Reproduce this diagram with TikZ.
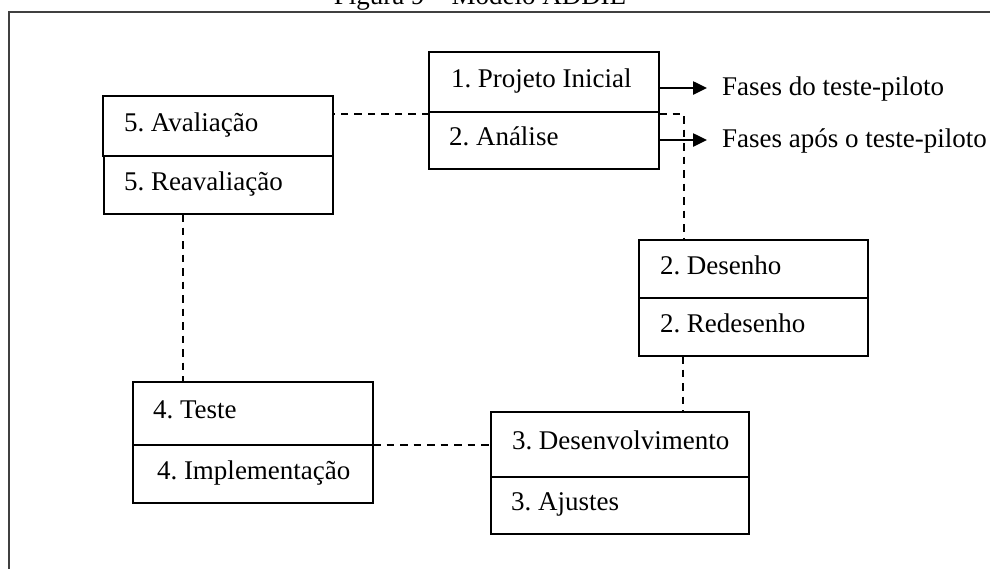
\documentclass[tikz,border=0pt]{standalone}
\usepackage{fontspec}
\setmainfont{Liberation Serif}
\usetikzlibrary{arrows.meta}
\frenchspacing
\newcommand\cellbox[3]{\makebox[#1][l]{\hspace*{#2}#3}}
\begin{document}
\begin{tikzpicture}[x=1pt,y=-1pt,
  cell/.style={draw, line width=2pt, anchor=north west, inner xsep=0pt, inner ysep=0pt, outer sep=0pt,
    text height=1.0em, text depth=0pt, font=\fontsize{27}{30}\selectfont\frenchspacing},
  lbl/.style={anchor=west, inner sep=0pt, text height=0.85em, text depth=0pt, font=\fontsize{27}{30}\selectfont},
  dashcon/.style={line width=1.9pt, dash pattern=on 7.5pt off 6pt},
  arr/.style={line width=2.5pt, -{Triangle[length=14pt,width=13pt]}},
  frame/.style={line width=1.2pt, black!75}]
\useasboundingbox (0,0) rectangle (990,568);
% outer frame
\draw[frame] (9,12) rectangle (1010,600);
% title (cut off at top, as in the reference)
\node[anchor=base, inner sep=0pt, font=\fontsize{27}{30}\selectfont] (title) at (480,4.5) {Figura 9 – Modelo ADDIE};
% box 1
\node[cell, minimum height=60pt] (p1) at (429,52) {\cellbox{230pt}{22pt}{1. Projeto Inicial}};
\node[cell, minimum height=57pt] (p2) at (p1.south west) {\cellbox{230pt}{20pt}{2. Análise}};
% box 5
\node[cell, minimum height=60pt] (a5) at (103,96) {\cellbox{230pt}{21pt}{5. Avaliação}};
\node[cell, minimum height=58pt] (a6) at ([xshift=1pt]a5.south west) {\cellbox{229pt}{20pt}{5. Reavaliação}};
% box 2 (Desenho)
\node[cell, minimum height=58pt] (d1) at (639,240) {\cellbox{229pt}{21pt}{2. Desenho}};
\node[cell, minimum height=58pt] (d2) at (d1.south west) {\cellbox{229pt}{21pt}{2. Redesenho}};
% box 4
\node[cell, minimum height=63pt] (t1) at (133,382) {\cellbox{240pt}{20pt}{4. Teste}};
\node[cell, minimum height=58pt] (t2) at (t1.south west) {\cellbox{240pt}{24pt}{4. Implementação}};
% box 3
\node[cell, minimum height=65pt] (c1) at (491,412) {\cellbox{258pt}{21pt}{3. Desenvolvimento}};
\node[cell, minimum height=57pt] (c2) at (c1.south west) {\cellbox{258pt}{20pt}{3. Ajustes}};
% arrows and labels
\coordinate (e1) at (707,88);
\coordinate (e2) at (707,140);
\draw[arr] (p1.east |- e1) -- (e1);
\draw[arr] (p2.east |- e2) -- (e2);
\node[lbl] (f1) at ([xshift=15pt,yshift=-3pt]e1) {Fases do teste-piloto};
\node[lbl] (f2) at ([xshift=15pt,yshift=-3pt]e2) {Fases após o teste-piloto};
% dashed connectors
\draw[dashcon] ([yshift=-2pt]p1.south west) -- ([yshift=-2pt]p1.south west -| a5.east);
\draw[dashcon] ([yshift=-2pt]p1.south east) -| ([xshift=45pt]d1.north west);
\draw[dashcon] ([xshift=44pt]d2.south west) -- ([xshift=44pt]d2.south west |- c1.north);
\draw[dashcon] (t1.south east) -- (t1.south east -| c1.west);
\draw[dashcon] ([xshift=79pt]a6.south west) -- ([xshift=79pt]a6.south west |- t1.north);
\end{tikzpicture}
\end{document}
